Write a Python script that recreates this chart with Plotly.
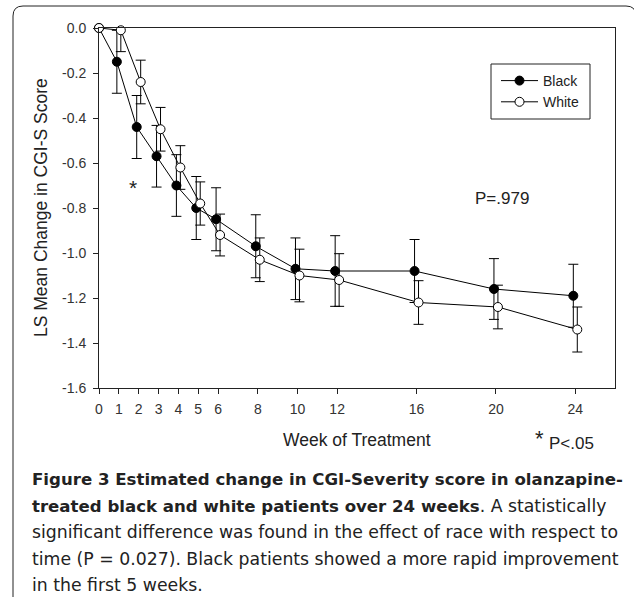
import plotly.graph_objects as go

weeks = [0, 1, 2, 3, 4, 5, 6, 8, 10, 12, 16, 20, 24]
black_mean = [0, -0.15, -0.44, -0.57, -0.70, -0.80, -0.85, -0.97, -1.07, -1.08, -1.08, -1.16, -1.19]
black_err = [0, 0.14, 0.14, 0.137, 0.137, 0.14, 0.14, 0.14, 0.137, 0.157, 0.14, 0.135, 0.14]
white_mean = [0, -0.01, -0.24, -0.45, -0.62, -0.78, -0.92, -1.03, -1.10, -1.12, -1.22, -1.24, -1.34]
white_err = [0, 0.095, 0.097, 0.097, 0.097, 0.096, 0.093, 0.097, 0.117, 0.117, 0.097, 0.097, 0.10]

y_tickvals = [0, -0.2, -0.4, -0.6, -0.8, -1.0, -1.2, -1.4, -1.6]
y_ticktext = ["0.0", "-0.2", "-0.4", "-0.6", "-0.8", "-1.0", "-1.2", "-1.4", "-1.6"]
x_tickvals = [0, 1, 2, 3, 4, 5, 6, 8, 10, 12, 16, 20, 24]

BOLD = '<b><span style="font-size:16.6px">'
EB = '</span></b>'
caption_lines = [
    f"{BOLD}Figure 3 Estimated change in CGI-Severity score in olanzapine-{EB}",
    f"{BOLD}treated black and white patients over 24 weeks{EB}. A statistically",
    "significant difference was found in the effect of race with respect to",
    "time (P = 0.027). Black patients showed a more rapid improvement",
    "in the first 5 weeks.",
]

W, H = 634, 597
L, R, T, B = 99, 615, 28, 388  # plot area in pixels
SANS = "Liberation Sans, Arial, sans-serif"


def px(x):
    return (x - L) / (R - L)


def py(y):
    return (B - y) / (B - T)


OFF = 0.1
bx = [w - OFF if w > 0 else 0 for w in weeks]
wx = [w + OFF if w > 0 else 0 for w in weeks]

fig = go.Figure()
fig.add_trace(go.Scatter(
    x=bx, y=black_mean, name="Black", mode="lines+markers",
    line=dict(color="black", width=1),
    marker=dict(size=9, color="black", line=dict(color="black", width=1)),
    error_y=dict(type="data", array=black_err, visible=True, color="black", thickness=1, width=5),
    cliponaxis=False,
))
fig.add_trace(go.Scatter(
    x=wx, y=white_mean, name="White", mode="lines+markers",
    line=dict(color="black", width=1),
    marker=dict(size=9, color="white", line=dict(color="black", width=1)),
    error_y=dict(type="data", array=white_err, visible=True, color="black", thickness=1, width=5),
    cliponaxis=False,
))

axis_font = dict(family=SANS, size=14, color="#333")
fig.update_xaxes(
    range=[0, 26], tickvals=x_tickvals, ticks="outside", ticklen=5, tickcolor="#222",
    showline=True, linecolor="#222", linewidth=1, mirror=True, showgrid=False, zeroline=False,
    tickfont=axis_font, ticklabelstandoff=3,
)
fig.update_yaxes(
    range=[-1.6, 0], tickvals=y_tickvals, ticktext=y_ticktext, ticks="outside", ticklen=5,
    tickcolor="#222", showline=True, linecolor="#222", linewidth=1, mirror=True,
    showgrid=False, zeroline=False, tickfont=axis_font, ticklabelstandoff=4,
)

ann = []
ann.append(dict(text="LS Mean Change in CGI-S Score", x=px(41), y=0.5, xref="paper", yref="paper",
                textangle=-90, showarrow=False, xanchor="center", yanchor="middle",
                font=dict(family=SANS, size=17.5, color="#222")))
ann.append(dict(text="Week of Treatment", x=px(357), y=py(440), xref="paper", yref="paper",
                showarrow=False, xanchor="center", yanchor="middle",
                font=dict(family=SANS, size=17.5, color="#222")))
ann.append(dict(text="*", x=px(539), y=py(438), xref="paper", yref="paper",
                showarrow=False, xanchor="center", yanchor="middle",
                font=dict(family=SANS, size=22, color="#222")))
ann.append(dict(text="P<.05", x=px(547), y=py(444), xref="paper", yref="paper",
                showarrow=False, xanchor="left", yanchor="middle",
                font=dict(family=SANS, size=17, color="#222")))
ann.append(dict(text="*", x=1.72, y=-0.71, xref="x", yref="y",
                showarrow=False, xanchor="center", yanchor="middle",
                font=dict(family=SANS, size=21, color="#222")))
ann.append(dict(text="P=.979", x=20.33, y=-0.756, xref="x", yref="y",
                showarrow=False, xanchor="center", yanchor="middle",
                font=dict(family=SANS, size=17, color="#222")))

cap_y = [479, 506, 532, 559, 585]
for line, yy in zip(caption_lines, cap_y):
    ann.append(dict(text=line, x=px(30), y=py(yy), xref="paper", yref="paper",
                    showarrow=False, xanchor="left", yanchor="middle",
                    font=dict(family="DejaVu Sans, sans-serif", size=17.3, color="#222")))

# outer rounded frame of figure panel
x0, x1 = px(13), px(636)
y0, y1 = py(6), py(650)
rx, ry = 10 / (R - L), 10 / (B - T)
path = (f"M {x0},{y1} L {x0},{y0 - ry} Q {x0},{y0} {x0 + rx},{y0} "
        f"L {x1 - rx},{y0} Q {x1},{y0} {x1},{y0 - ry} L {x1},{y1}")

shapes = [
    dict(type="path", path=path, xref="paper", yref="paper",
         line=dict(color="#222", width=1), layer="below"),
    # legend box
    dict(type="rect", xref="paper", yref="paper", x0=px(491), x1=px(590), y0=py(119), y1=py(64),
         line=dict(color="#222", width=1), fillcolor="white", layer="below"),
]

fig.update_layout(
    width=W, height=H,
    margin=dict(l=L, r=W - R, t=T, b=H - B, pad=0),
    paper_bgcolor="white", plot_bgcolor="white",
    showlegend=True,
    legend=dict(x=px(496), y=py(65), xanchor="left", yanchor="top",
                borderwidth=0, bgcolor="rgba(0,0,0,0)",
                font=dict(family=SANS, size=14, color="#222"),
                itemwidth=37, tracegroupgap=0),
    annotations=ann,
    shapes=shapes,
)

fig.write_html("out.html")
